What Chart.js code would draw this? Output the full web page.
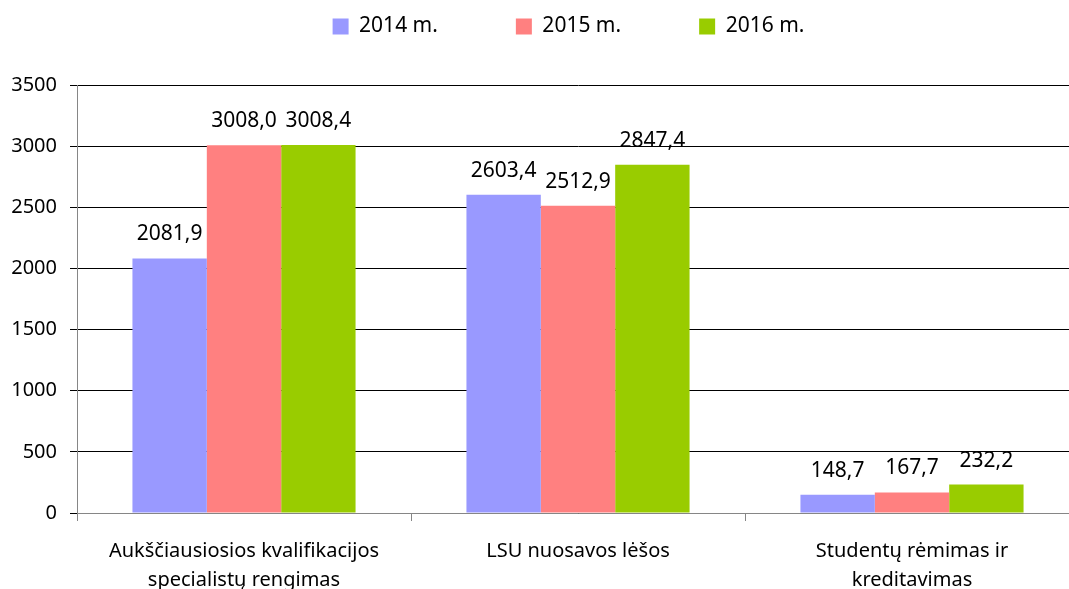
<!DOCTYPE html>
<html>
<head>
<meta charset="utf-8">
<script src="https://cdn.jsdelivr.net/npm/chart.js@4/dist/chart.umd.min.js"></script>
<style>
  html, body { margin: 0; padding: 0; background: #fff; overflow: hidden; }
  #wrap { width: 1079px; height: 589px; }
</style>
</head>
<body>
<div id="wrap"><canvas id="chart"></canvas></div>
<script>
// ========== DATA ==========
const categories = [
  ['Aukščiausiosios kvalifikacijos', 'specialistų rengimas'],
  'LSU nuosavos lėšos',
  ['Studentų rėmimas ir', 'kreditavimas']
];
const seriesNames = ['2014 m.', '2015 m.', '2016 m.'];
const values2014 = [2081.9, 2603.4, 148.7];
const values2015 = [3008.0, 2512.9, 167.7];
const values2016 = [3008.4, 2847.4, 232.2];
const yTicks = [0, 500, 1000, 1500, 2000, 2500, 3000, 3500];

const seriesColors = ['#9999ff', '#ff8080', '#99cc00'];
const FONT = '"Noto Sans", "DejaVu Sans", sans-serif';

// ========== VALUE LABELS ==========
const valueLabels = {
  id: 'valueLabels',
  afterDatasetsDraw(chart) {
    const ctx = chart.ctx;
    ctx.save();
    ctx.font = '21px ' + FONT;
    ctx.fillStyle = '#000';
    ctx.textAlign = 'center';
    ctx.textBaseline = 'middle';
    chart.data.datasets.forEach((ds, i) => {
      chart.getDatasetMeta(i).data.forEach((bar, j) => {
        const txt = ds.data[j].toFixed(1).replace('.', ',');
        ctx.fillText(txt, bar.x, bar.y - 24);
      });
    });
    ctx.restore();
  }
};

// ========== LEGEND PLACEMENT ==========
// wide spacing between items but the row sits near the top
const LEGEND_PAD = 78;
const LEGEND_H = 85;
const LEGEND_TOP = -62;
const LEGEND_SHIFT = 29;
const legendPlace = {
  id: 'legendPlace',
  beforeInit(chart) {
    const fit = chart.legend.fit;
    chart.legend.fit = function () {
      fit.bind(chart.legend)();
      this.height = LEGEND_H;
    };
  },
  afterLayout(chart) {
    const lg = chart.legend;
    lg.top = LEGEND_TOP;
    lg.bottom = 70;
    lg.left += LEGEND_SHIFT;
    lg.right += LEGEND_SHIFT;
  }
};

const chart = new Chart(document.getElementById('chart'), {
  type: 'bar',
  data: {
    labels: categories,
    datasets: [
      { label: seriesNames[0], data: values2014, backgroundColor: seriesColors[0] },
      { label: seriesNames[1], data: values2015, backgroundColor: seriesColors[1] },
      { label: seriesNames[2], data: values2016, backgroundColor: seriesColors[2] }
    ]
  },
  options: {
    responsive: true,
    maintainAspectRatio: false,
    animation: false,
    datasets: {
      bar: { categoryPercentage: 0.668, barPercentage: 1.0 }
    },
    layout: { padding: 0 },
    plugins: {
      tooltip: { enabled: false },
      legend: {
        position: 'top',
        labels: {
          color: '#000',
          font: { family: FONT, size: 21 },
          boxWidth: 16,
          boxHeight: 16,
          padding: LEGEND_PAD
        }
      }
    },
    scales: {
      x: {
        afterFit(axis) { axis.height = 76; },
        grid: {
          display: true,
          drawOnChartArea: false,
          drawTicks: true,
          tickLength: 8,
          tickColor: '#868686',
          offset: true
        },
        border: { color: '#868686' },
        ticks: {
          color: '#000',
          font: { family: FONT, size: 20, lineHeight: 1.45 },
          padding: 16,
          maxRotation: 0
        }
      },
      y: {
        min: 0,
        max: 3500,
        afterBuildTicks(axis) {
          axis.ticks = yTicks.map(v => ({ value: v }));
        },
        afterFit(axis) { axis.width = 77; },
        grid: {
          color: '#000',
          lineWidth: 1,
          tickLength: 7,
          tickColor: '#000'
        },
        border: { color: '#868686' },
        ticks: {
          color: '#000',
          font: { family: FONT, size: 20 },
          padding: 13,
          callback: v => String(v)
        }
      }
    }
  },
  plugins: [valueLabels, legendPlace]
});
</script>
</body>
</html>
